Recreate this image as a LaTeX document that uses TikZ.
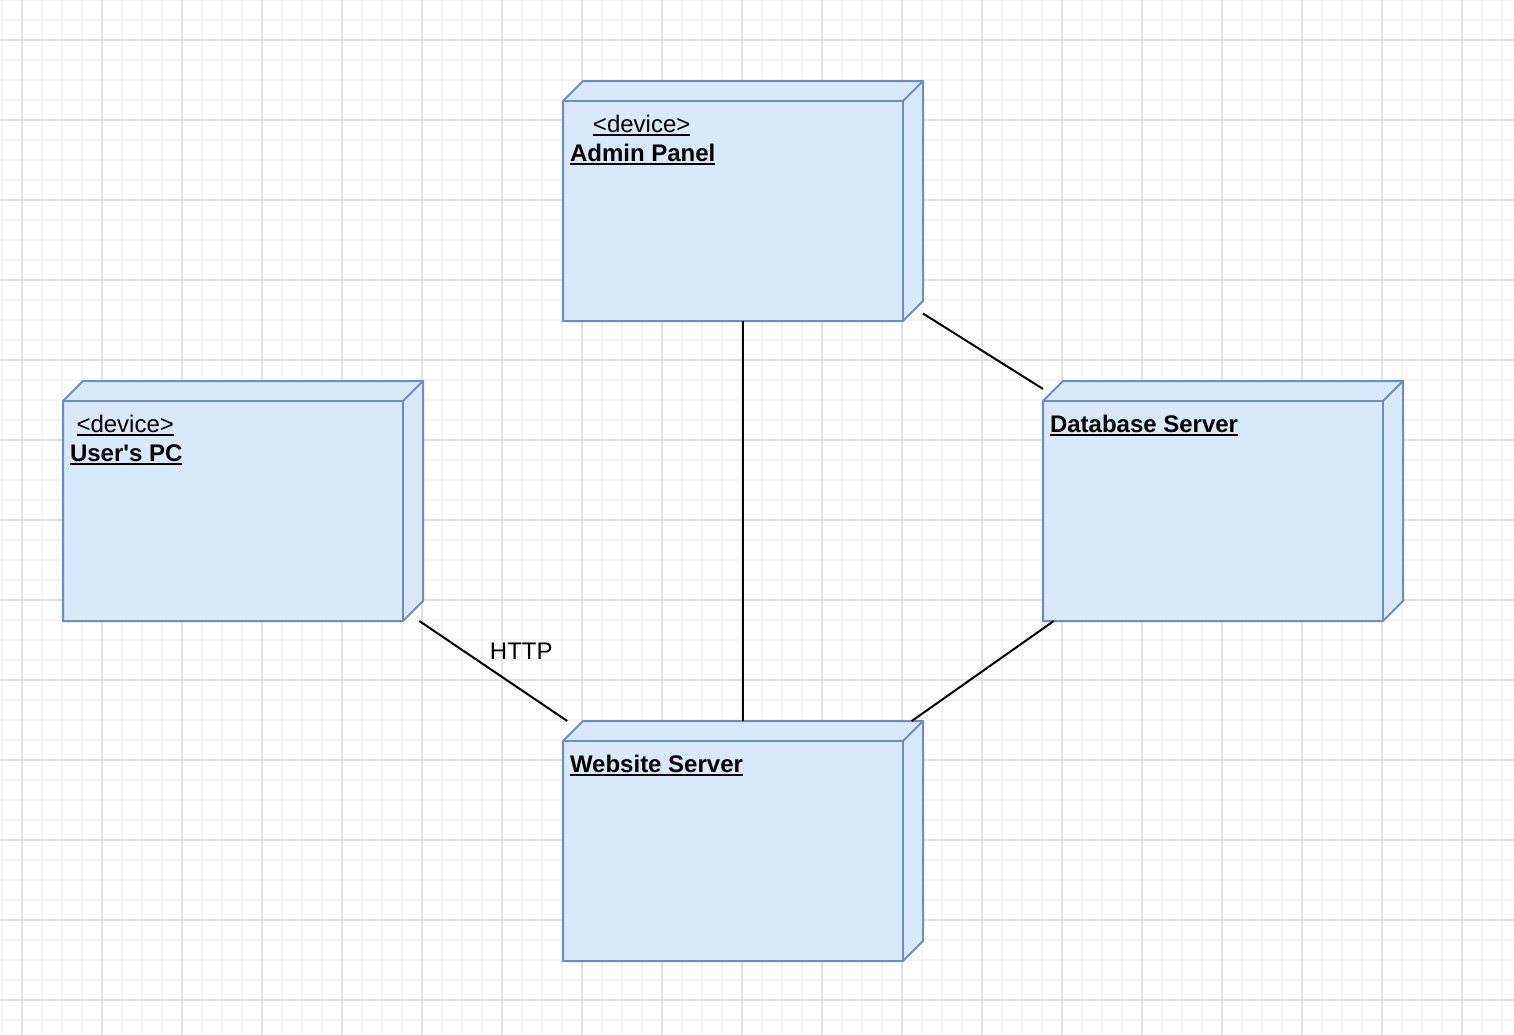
\documentclass[tikz,border=0pt]{standalone}
\usepackage{fontspec}
\setmainfont{Liberation Sans}
\definecolor{nodefill}{HTML}{DAE8FC}
\definecolor{nodeline}{HTML}{6C8EBF}
\definecolor{gridmajor}{HTML}{E2E2E2}
\definecolor{gridminor}{HTML}{F4F4F4}
\newcommand\ulbox[1]{\setbox0=\hbox{#1}\rlap{\rule[-3.5pt]{\wd0}{2pt}}\box0}
\newcommand\devshape[1]{%
  \draw[boxline, fill=nodefill] ([yshift=-20pt]#1.north west) -- ([xshift=20pt]#1.north west) -- (#1.north east)
     -- ([yshift=20pt]#1.south east) -- ([xshift=-20pt]#1.south east) -- (#1.south west) -- cycle;
  \draw[boxline] ([yshift=-20pt]#1.north west) -- ([xshift=-20pt,yshift=-20pt]#1.north east) -- ([xshift=-20pt]#1.south east);
  \draw[boxline] ([xshift=-20pt,yshift=-20pt]#1.north east) -- (#1.north east);
}
\begin{document}
\begin{tikzpicture}[x=1pt,y=-1pt,
  devnode/.style={minimum width=360pt, minimum height=240pt, inner sep=0pt, outer sep=0pt},
  boxline/.style={draw=nodeline, line width=2pt, line join=miter},
  txt/.style={font=\fontsize{24}{28.8}\selectfont, inner sep=0pt, outer sep=0pt},
  conn/.style={draw=black, line width=2pt},
  gmin/.style={draw=gridminor, line width=2pt},
  gmaj/.style={draw=gridmajor, line width=2pt}]
\useasboundingbox (0,0) rectangle (1514,1034);
\fill[white] (0,0) rectangle (1514,1034);
% grid
\foreach \i in {0,...,75} \draw[gmin] ({2+20*\i},0) -- ({2+20*\i},1034);
\foreach \j in {0,...,51} \draw[gmin] (0,{20*\j}) -- (1514,{20*\j});
\foreach \i in {0,...,18} \draw[gmaj] ({22+80*\i},0) -- ({22+80*\i},1034);
\foreach \j in {0,...,12} \draw[gmaj] (0,{40+80*\j}) -- (1514,{40+80*\j});
% nodes
\node[devnode] (admin) at (743,201) {};
\node[devnode] (user) at (243,501) {};
\node[devnode] (db) at (1223,501) {};
\node[devnode] (web) at (743,841) {};
\devshape{admin}
\devshape{user}
\devshape{db}
\devshape{web}
% titles
\node[txt, anchor=base west] (admint) at ([xshift=7pt,yshift=-80pt]admin.north west) {\bfseries\ulbox{Admin Panel}};
\node[txt, anchor=base] (admind) at ([xshift=-1pt,yshift=29pt]admint.base) {\ulbox{<device>}};
\node[txt, anchor=base west] (usert) at ([xshift=7pt,yshift=-80pt]user.north west) {\bfseries\ulbox{User\textquotesingle s PC}};
\node[txt, anchor=base] (userd) at ([xshift=-1pt,yshift=29pt]usert.base) {\ulbox{<device>}};
\node[txt, anchor=base west] (dbt) at ([xshift=7pt,yshift=-51pt]db.north west) {\bfseries\ulbox{Database Server}};
\node[txt, anchor=base west] (webt) at ([xshift=7pt,yshift=-51pt]web.north west) {\bfseries\ulbox{Website Server}};
% connectors
\draw[conn] (admin) -- (web);
\draw[conn] (admin) -- (db);
\draw[conn] (db) -- (web);
\draw[conn] (user) -- node[txt, pos=0.5, xshift=28pt, yshift=20pt] (http) {HTTP} (web);
\end{tikzpicture}
\end{document}
